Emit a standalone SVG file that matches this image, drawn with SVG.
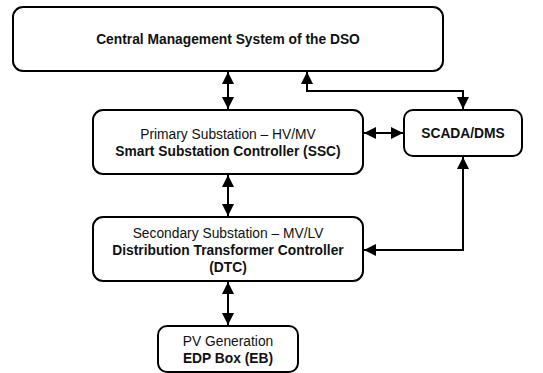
<svg xmlns="http://www.w3.org/2000/svg" width="543" height="373" viewBox="0 0 543 373">
<style>
.box{fill:#fff;stroke:#000;stroke-width:2}
.t{font-family:"Liberation Sans",Arial,sans-serif;font-size:13.8px;text-anchor:middle;fill:#111}
.b{font-weight:bold}
.c{fill:none;stroke:#000;stroke-width:2}
</style>
<defs>
<marker id="ah" markerUnits="userSpaceOnUse" markerWidth="12" markerHeight="12" viewBox="0 0 10 10" refX="10" refY="5" orient="auto-start-reverse">
<path d="M0,0 L10,5 L0,10 Z" fill="#000"/>
</marker>
</defs>
<g id="cms">
<rect class="box" x="13" y="7" width="430" height="64" rx="10"/>
<text class="t b" x="228" y="44">Central Management System of the DSO</text>
</g>
<g id="ssc">
<rect class="box" x="93" y="110" width="270" height="64" rx="10"/>
<text class="t" x="228" y="139">Primary Substation – HV/MV</text>
<text class="t b" x="228" y="156">Smart Substation Controller (SSC)</text>
</g>
<g id="scada">
<rect class="box" x="404" y="110" width="118" height="46" rx="9"/>
<text class="t b" x="463" y="138">SCADA/DMS</text>
</g>
<g id="dtc">
<rect class="box" x="93" y="217" width="270" height="64" rx="10"/>
<text class="t" x="228" y="238">Secondary Substation – MV/LV</text>
<text class="t b" x="228" y="255">Distribution Transformer Controller</text>
<text class="t b" x="228" y="272">(DTC)</text>
</g>
<g id="eb">
<rect class="box" x="158" y="326" width="140" height="46" rx="9"/>
<text class="t" x="228" y="346">PV Generation</text>
<text class="t b" x="228" y="363">EDP Box (EB)</text>
</g>
<g id="connectors">
<path class="c" d="M228,72 V109" marker-start="url(#ah)" marker-end="url(#ah)"/>
<path class="c" d="M307,72 V91 H463 V109" marker-start="url(#ah)" marker-end="url(#ah)"/>
<path class="c" d="M364,133 H403" marker-start="url(#ah)" marker-end="url(#ah)"/>
<path class="c" d="M228,175 V216" marker-start="url(#ah)" marker-end="url(#ah)"/>
<path class="c" d="M463,157 V250 H364" marker-start="url(#ah)" marker-end="url(#ah)"/>
<path class="c" d="M228,282 V325" marker-start="url(#ah)" marker-end="url(#ah)"/>
</g>
</svg>
